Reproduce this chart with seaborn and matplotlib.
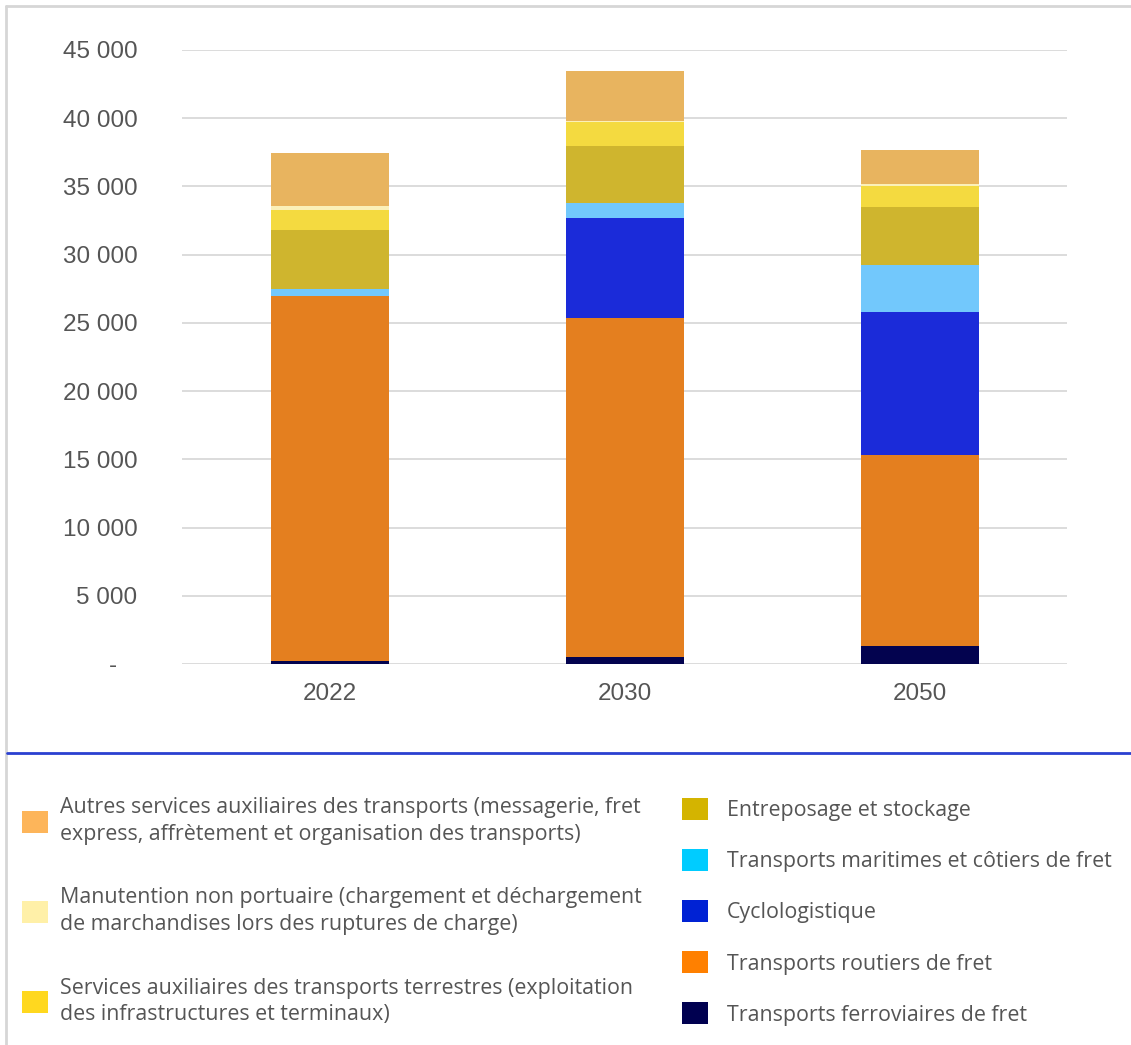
import numpy as np
import pandas as pd
import matplotlib
matplotlib.use("Agg")
import matplotlib.pyplot as plt
from matplotlib.patches import Patch
from matplotlib.lines import Line2D
import seaborn as sns

# =========================
# DATA
# =========================
years = ["2022", "2030", "2050"]

series = [
    "Transports ferroviaires de fret",
    "Transports routiers de fret",
    "Cyclologistique",
    "Transports maritimes et côtiers de fret",
    "Entreposage et stockage",
    "Services auxiliaires des transports terrestres (exploitation\ndes infrastructures et terminaux)",
    "Manutention non portuaire (chargement et déchargement\nde marchandises lors des ruptures de charge)",
    "Autres services auxiliaires des transports (messagerie, fret\nexpress, affrètement et organisation des transports)",
]

rail = [200, 490, 1320]
routier = [26800, 24900, 14000]
cyclo = [0, 7300, 10500]
maritime = [520, 1100, 3400]
entreposage = [4280, 4200, 4300]
terrestres = [1500, 1700, 1500]
manutention = [250, 100, 150]
autres = [3900, 3700, 2500]

values = [rail, routier, cyclo, maritime, entreposage, terrestres, manutention, autres]

bar_colors = ["#03034f", "#e47f1f", "#1b2bd9", "#72c8fc",
              "#cfb52e", "#f4da40", "#fbf0b8", "#e8b45f"]
legend_colors = ["#000050", "#ff8000", "#0022d4", "#00ccff",
                 "#d4b400", "#ffd81f", "#fff0a8", "#fdb55a"]

yticks = [0, 5000, 10000, 15000, 20000, 25000, 30000, 35000, 40000, 45000]
ytick_labels = ["-   ", "5 000", "10 000", "15 000", "20 000", "25 000",
                "30 000", "35 000", "40 000", "45 000"]

# =========================
# PLOT
# =========================
sns.set_style("white")
plt.rcParams["font.family"] = ["Liberation Sans", "DejaVu Sans"]

fig = plt.figure(figsize=(11.31, 10.45), dpi=100)
ax = fig.add_axes([182 / 1131, 1 - 664 / 1045, 885 / 1131, 614 / 1045])

df = pd.DataFrame({"year": years})
bottom = np.zeros(len(years))
for name, vals, col in zip(series, values, bar_colors):
    df["v"] = vals
    sns.barplot(data=df, x="year", y="v", order=years, bottom=bottom,
                color=col, width=0.4, errorbar=None, linewidth=0,
                saturation=1, ax=ax, zorder=3)
    bottom = bottom + np.array(vals)

ax.set_xlim(-0.5, 2.5)
ax.set_ylim(0, 45000)
ax.set_yticks(yticks)
ax.set_yticklabels(ytick_labels)
ax.set_xlabel("")
ax.set_ylabel("")
ax.grid(axis="y", color="#dcdcdc", linewidth=1.4, zorder=0)
ax.grid(axis="x", visible=False)
for s in ax.spines.values():
    s.set_visible(False)
ax.tick_params(axis="y", length=0, pad=32, labelsize=17.5, labelcolor="#555555")
ax.tick_params(axis="x", length=0, pad=14, labelsize=17.5, labelcolor="#555555")

# frame lines + blue separator
fig.add_artist(Line2D([0.005, 1], [0.9943, 0.9943], transform=fig.transFigure,
                      color="#d6d6d6", linewidth=2))
fig.add_artist(Line2D([0.0055, 0.0055], [0, 0.9943], transform=fig.transFigure,
                      color="#d6d6d6", linewidth=2))
fig.add_artist(Line2D([0.006, 1], [1 - 753 / 1045, 1 - 753 / 1045],
                      transform=fig.transFigure, color="#2a40d0", linewidth=2))

# =========================
# LEGEND
# =========================
handles = [Patch(facecolor=c, edgecolor="none") for c in legend_colors]
lsize = 15.4
lfont = {"family": ["Open Sans", "DejaVu Sans"], "size": lsize}
fs = lsize * 100 / 72

left_idx = [7, 6, 5]
leg1 = fig.legend([handles[i] for i in left_idx], [series[i] for i in left_idx],
                  loc="upper left", bbox_to_anchor=(22 / 1131, 1 - 797 / 1045),
                  frameon=False, prop=lfont, borderpad=0, borderaxespad=0,
                  handlelength=26 / fs, handleheight=26 / fs, handletextpad=12 / fs,
                  labelspacing=2.0, labelcolor="#555555")
for t in leg1.get_texts():
    t.set_linespacing(1.35)

right_idx = [4, 3, 2, 1, 0]
leg2 = fig.legend([handles[i] for i in right_idx], [series[i] for i in right_idx],
                  loc="upper left", bbox_to_anchor=(682 / 1131, 1 - 798 / 1045),
                  frameon=False, prop=lfont, borderpad=0, borderaxespad=0,
                  handlelength=26 / fs, handleheight=26 / fs, handletextpad=19 / fs,
                  labelspacing=1.3, labelcolor="#555555")

fig.savefig("out.png", dpi=100)
